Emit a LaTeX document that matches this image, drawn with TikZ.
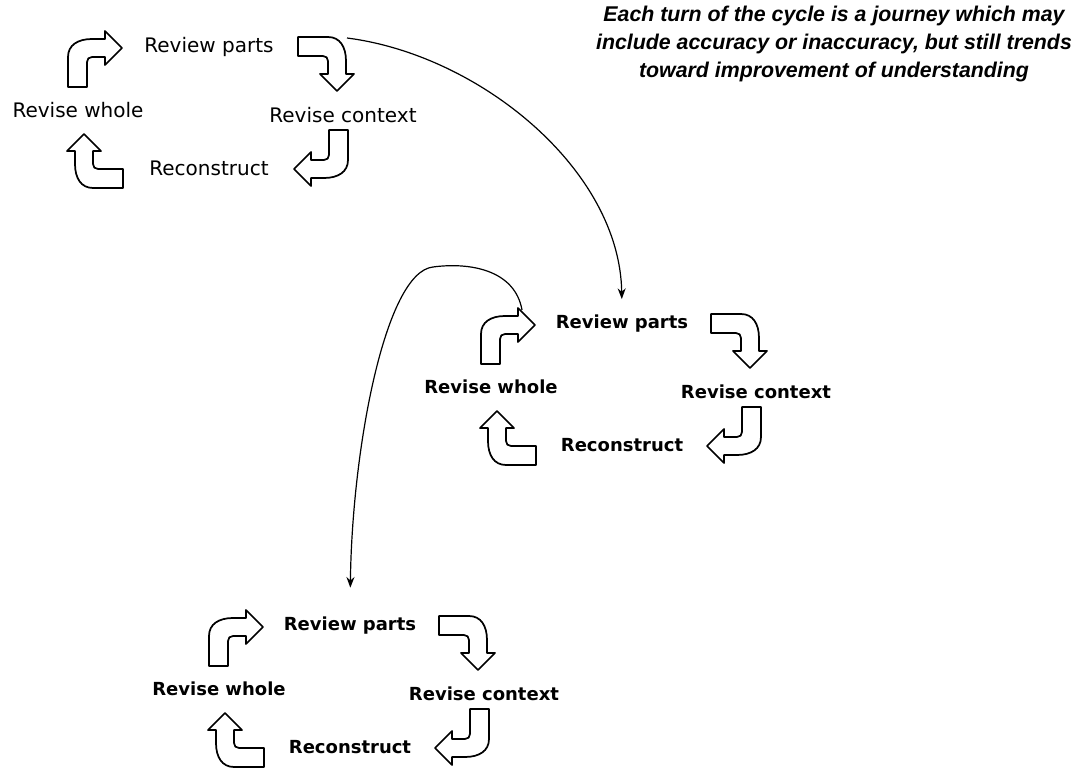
\documentclass[tikz,border=0pt]{standalone}
\usepackage{fontspec}
\setmainfont{DejaVu Sans}
\newfontfamily\notefont{Liberation Sans}
\usetikzlibrary{arrows.meta,calc}
\tikzset{
  bentarrowstyle/.style={draw=black,fill=white,line width=1.3pt,line join=round},
  lblregular/.style={font=\fontsize{15}{18}\selectfont,inner sep=2pt},
  lblbold/.style={font=\fontsize{13.5}{16}\selectfont\bfseries,inner sep=2pt},
  notestyle/.style={font=\notefont\bfseries\itshape\fontsize{16}{21}\selectfont,align=center,inner sep=0pt},
  conn/.style={draw=black,line width=0.9pt,-{Stealth[length=8pt,width=6pt]}},
}
\newcommand\bentarrow[3]{%
  \begin{scope}[shift={(#1,#2)},rotate=#3]
    \path[bentarrowstyle] (0,0) -- (0,-30) .. controls (0,-42) and (10,-48) .. (24,-48)
      -- (37,-48) -- (37,-56) -- (54,-39) -- (37,-22) -- (37,-30) -- (24,-30)
      .. controls (21,-30) and (19,-28) .. (19,-25) -- (19,0) -- cycle;
  \end{scope}}
\newcommand\cyclegroup[4]{%
  \begin{scope}[shift={(#2,#3)}]
    \node[#4] (#1parts) at (209,47) {Review parts};
    \node[#4] (#1whole) at (78,110) {Revise whole};
    \node[#4] (#1context) at (343,115) {Revise context};
    \node[#4] (#1recon) at (209,168) {Reconstruct};
    \bentarrow{68}{87}{0}
    \bentarrow{298}{37}{-90}
    \bentarrow{348}{130}{180}
    \bentarrow{123}{188}{90}
  \end{scope}}
\begin{document}
\begin{tikzpicture}[x=0.75pt,y=-0.75pt]
\useasboundingbox[fill=white] (0,0) rectangle (1076,770);
\cyclegroup{a}{0}{0}{lblregular}
\cyclegroup{b}{413}{277}{lblbold}
\cyclegroup{c}{141}{579}{lblbold}
\node[notestyle] (note) at (834,44) {Each turn of the cycle is a journey which may\\include accuracy or inaccuracy, but still trends\\toward improvement of understanding};
\coordinate (aout) at (347,38);
\coordinate (bloop) at (522,310);
\draw[conn,shorten >=10pt] (aout) .. controls (480,55) and (620,170) .. (bparts.north);
\draw[conn,shorten >=20pt] (bloop) .. controls (515,270) and (470,262) .. (433,267)
   .. controls (385,272) and (352,450) .. (cparts.north);
\end{tikzpicture}
\end{document}
